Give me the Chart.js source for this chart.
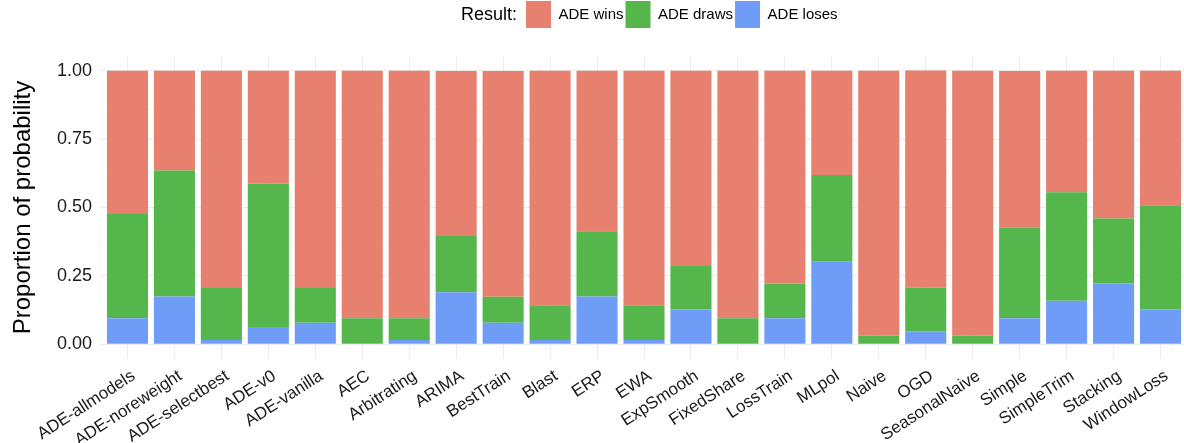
<!DOCTYPE html>
<html>
<head>
<meta charset="utf-8">
<script src="https://cdn.jsdelivr.net/npm/chart.js@4.4.1/dist/chart.umd.min.js"></script>
<style>
  html, body { margin: 0; padding: 0; background: #ffffff; }
  #wrap { width: 1184px; height: 443px; }
</style>
</head>
<body>
<div id="wrap"><canvas id="chart" width="1184" height="443"></canvas></div>
<script>
// categories (methods compared against ADE)
const methods = [
  'ADE-allmodels', 'ADE-noreweight', 'ADE-selectbest', 'ADE-v0', 'ADE-vanilla',
  'AEC', 'Arbitrating', 'ARIMA', 'BestTrain', 'Blast', 'ERP', 'EWA', 'ExpSmooth',
  'FixedShare', 'LossTrain', 'MLpol', 'Naive', 'OGD', 'SeasonalNaive', 'Simple',
  'SimpleTrim', 'Stacking', 'WindowLoss'
];

// proportions
const adeLoses = [0.095, 0.175, 0.016, 0.063, 0.079, 0, 0.016, 0.190, 0.079, 0.016, 0.175, 0.016,
                  0.127, 0, 0.095, 0.302, 0, 0.048, 0, 0.095, 0.159, 0.222, 0.127];
const adeDraws = [0.381, 0.460, 0.190, 0.524, 0.127, 0.095, 0.079, 0.206, 0.095, 0.127, 0.238, 0.127,
                  0.159, 0.095, 0.127, 0.317, 0.032, 0.159, 0.032, 0.333, 0.397, 0.238, 0.381];
const adeWins  = [0.524, 0.365, 0.794, 0.413, 0.794, 0.905, 0.905, 0.603, 0.825, 0.857, 0.587, 0.857,
                  0.714, 0.905, 0.778, 0.381, 0.968, 0.794, 0.968, 0.571, 0.444, 0.540, 0.492];

// y gridline positions (majors get a label)
const yTicks = [0, 0.125, 0.25, 0.375, 0.5, 0.625, 0.75, 0.875, 1];

const FONT = "'Liberation Sans', Arial, Helvetica, sans-serif";
const LEGEND_X = 526;

const isMajor = v => Math.round(v * 4) === v * 4;

// "Result:" label to the left of the legend, and legend nudged to the right spot
const legendExtras = {
  id: 'legendExtras',
  afterLayout(chart) {
    const lg = chart.legend;
    const pad = lg.options.labels.padding;
    const cur = (lg.left + pad + lg.right - lg.lineWidths[0]) / 2;
    const dx = LEGEND_X - cur;
    lg.left += dx;
    lg.right += dx;
  },
  afterDraw(chart) {
    const hb = chart.legend.legendHitBoxes[0];
    if (!hb) return;
    const ctx = chart.ctx;
    ctx.save();
    ctx.font = '18px ' + FONT;
    ctx.fillStyle = '#000000';
    ctx.textAlign = 'right';
    ctx.textBaseline = 'middle';
    ctx.fillText('Result:', hb.left - 9, hb.top + hb.height / 2 + 1);
    ctx.restore();
  }
};

const ctx = document.getElementById('chart').getContext('2d');
new Chart(ctx, {
  type: 'bar',
  data: {
    labels: methods,
    datasets: [
      { label: 'ADE loses', data: adeLoses, backgroundColor: '#6E9CF7' },
      { label: 'ADE draws', data: adeDraws, backgroundColor: '#55B64B' },
      { label: 'ADE wins',  data: adeWins,  backgroundColor: '#E8806F' }
    ]
  },
  options: {
    responsive: false,
    animation: false,
    devicePixelRatio: 1,
    layout: { padding: { top: -1, left: 0, right: 0, bottom: 0 } },
    datasets: {
      bar: { barPercentage: 0.875, categoryPercentage: 1.0, borderWidth: 0 }
    },
    scales: {
      x: {
        stacked: true,
        offset: true,
        border: { display: false },
        grid: { offset: false, color: '#EBEBEB', lineWidth: 1, drawTicks: false },
        ticks: {
          autoSkip: false,
          minRotation: 33,
          maxRotation: 33,
          padding: 8,
          labelOffset: 6,
          color: '#1a1a1a',
          font: { family: FONT, size: 17 }
        },
        afterFit(scale) { scale.height = 85; }
      },
      y: {
        stacked: true,
        min: -0.05,
        max: 1.05,
        border: { display: false },
        afterBuildTicks(scale) {
          scale.ticks = yTicks.map(v => ({ value: v }));
        },
        grid: {
          color: c => (c.tick && isMajor(c.tick.value)) ? '#EBEBEB' : '#F3F3F3',
          lineWidth: c => (c.tick && isMajor(c.tick.value)) ? 1 : 0.6,
          tickLength: 4
        },
        ticks: {
          padding: 8,
          color: '#1a1a1a',
          font: { family: FONT, size: 18 },
          callback: v => isMajor(v) ? v.toFixed(2) : ''
        },
        title: {
          display: true,
          text: 'Proportion of probability',
          color: '#000000',
          font: { family: FONT, size: 24 },
          padding: { top: 9, bottom: 10 }
        },
        afterFit(scale) { scale.width = 104; }
      }
    },
    plugins: {
      title: {
        display: true,
        text: ' ',
        weight: 500,
        font: { size: 10 },
        padding: { top: 4, bottom: 3 }
      },
      legend: {
        position: 'top',
        fullSize: false,
        reverse: true,
        labels: {
          boxWidth: 25,
          boxHeight: 27,
          padding: 2,
          color: '#000000',
          font: { family: FONT, size: 15 }
        }
      },
      tooltip: { enabled: false }
    }
  },
  plugins: [legendExtras]
});
</script>
</body>
</html>
